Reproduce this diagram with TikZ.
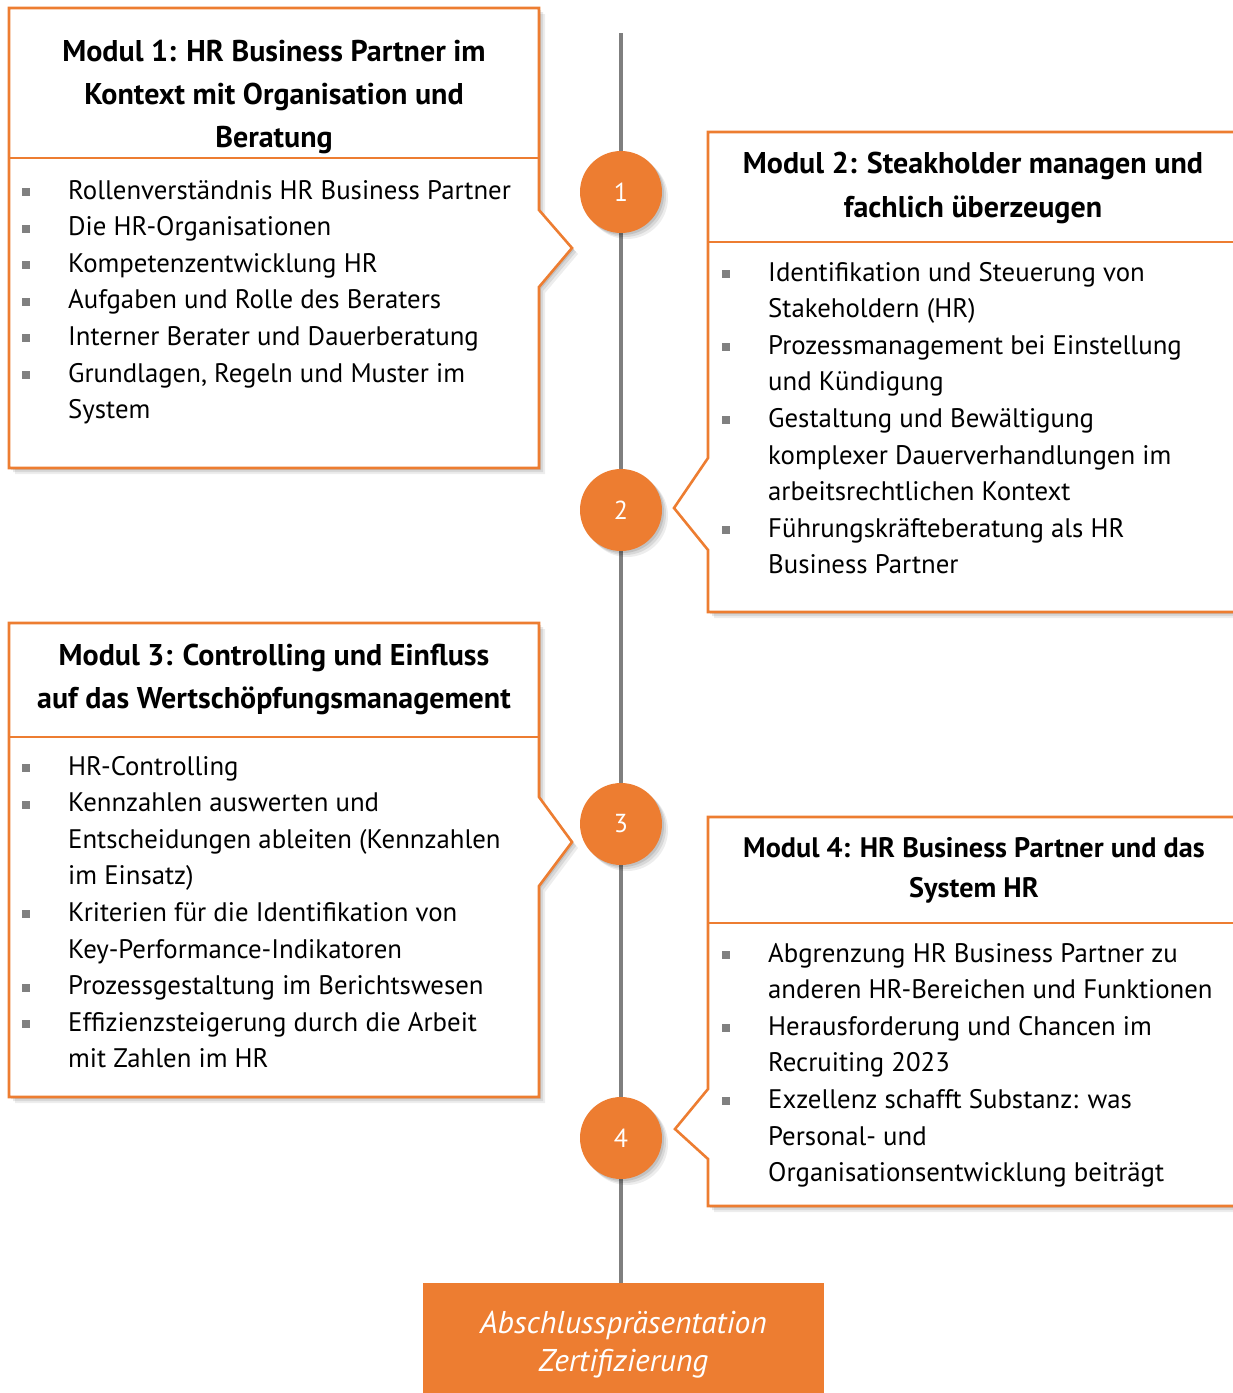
\documentclass[tikz,border=0pt]{standalone}
\usepackage{fontspec}
\setmainfont{PT Sans}
\usetikzlibrary{shadows,backgrounds}
\definecolor{org}{HTML}{ED7D31}
\definecolor{lgray}{HTML}{7F7F7F}
\definecolor{bgray}{HTML}{808080}
\newcommand{\bul}{\makebox[46pt][l]{\color{bgray}\rule[3pt]{8pt}{8pt}}}
\newcommand{\ind}{\hspace*{46pt}}
\tikzset{
  softshadow/.style={
    general shadow={fill=black,opacity=0.10,shadow xshift=2pt,shadow yshift=-2pt},
    general shadow={fill=black,opacity=0.09,shadow xshift=4pt,shadow yshift=-4pt},
    general shadow={fill=black,opacity=0.07,shadow xshift=6pt,shadow yshift=-6pt}},
  modbox/.style={draw=org, line width=2.6pt, fill=white, line join=miter, softshadow},
  divider/.style={draw=org, line width=2.6pt},
  headtxt/.style={anchor=base, align=center, inner sep=0pt, font=\bfseries\fontsize{30}{43}\selectfont},
  listtxt/.style={anchor=base west, align=left, inner sep=0pt, font=\fontsize{26.8}{36.6}\selectfont},
  stepcirc/.style={circle, fill=org, minimum size=82pt, inner sep=0pt, text=white, font=\fontsize{26}{30}\selectfont, softshadow},
  timeline/.style={draw=lgray, line width=4pt},
  finalbox/.style={fill=org, minimum width=401pt, minimum height=122pt, inner sep=0pt, anchor=north, align=center, text=white, font=\itshape\fontsize{31.5}{38}\selectfont}
}
\begin{document}
\begin{tikzpicture}[x=1pt,y=-1pt]
\useasboundingbox (0,0) rectangle (1233,1393);
\clip (0,0) rectangle (1233,1393);

% module boxes
\path[modbox] (9,8) -- (539,8) -- (539,210) -- (572,248) -- (539,287) -- (539,468) -- (9,468) -- cycle;
\draw[divider] (9,158) -- (539,158);
\path[modbox] (708,132) -- (1245,132) -- (1245,612) -- (708,612) -- (708,550) -- (674,508) -- (708,458) -- cycle;
\draw[divider] (708,242) -- (1245,242);
\path[modbox] (9,623) -- (539,623) -- (539,797) -- (572,842) -- (539,886) -- (539,1097) -- (9,1097) -- cycle;
\draw[divider] (9,737) -- (539,737);
\path[modbox] (708,817) -- (1245,817) -- (1245,1206) -- (708,1206) -- (708,1159) -- (675,1129) -- (708,1089) -- cycle;
\draw[divider] (708,923) -- (1245,923);

% headings (base anchor = baseline of last line)
\node[headtxt] (h1) at (274,147) {Modul 1: HR Business Partner im\\Kontext mit Organisation und\\Beratung};
\node[headtxt, font=\bfseries\fontsize{30}{44}\selectfont] (h2) at (973,217) {Modul 2: Steakholder managen und\\fachlich überzeugen};
\node[headtxt] (h3) at (274,708) {Modul 3: Controlling und Einfluss\\auf das Wertschöpfungsmanagement};
\node[headtxt, font=\bfseries\fontsize{28.2}{40}\selectfont] (h4) at (974,897) {Modul 4: HR Business Partner und das\\System HR};

% lists (base anchor = baseline of last line)
\node[listtxt] (l1) at (22,418.6) {\bul Rollenverständnis HR Business Partner\\
\bul Die HR-Organisationen\\
\bul Kompetenzentwicklung HR\\
\bul Aufgaben und Rolle des Beraters\\
\bul Interner Berater und Dauerberatung\\
\bul Grundlagen, Regeln und Muster im\\
\ind System};
\node[listtxt] (l2) at (722,573.8) {\bul Identifikation und Steuerung von\\
\ind Stakeholdern (HR)\\
\bul Prozessmanagement bei Einstellung\\
\ind und Kündigung\\
\bul Gestaltung und Bewältigung\\
\ind komplexer Dauerverhandlungen im\\
\ind arbeitsrechtlichen Kontext\\
\bul Führungskräfteberatung als HR\\
\ind Business Partner};
\node[listtxt] (l3) at (22,1067.8) {\bul HR-Controlling\\
\bul Kennzahlen auswerten und\\
\ind Entscheidungen ableiten (Kennzahlen\\
\ind im Einsatz)\\
\bul Kriterien für die Identifikation von\\
\ind Key-Performance-Indikatoren\\
\bul Prozessgestaltung im Berichtswesen\\
\bul Effizienzsteigerung durch die Arbeit\\
\ind mit Zahlen im HR};
\node[listtxt] (l4) at (722,1181.6) {\bul Abgrenzung HR Business Partner zu\\
\ind anderen HR-Bereichen und Funktionen\\
\bul Herausforderung und Chancen im\\
\ind Recruiting 2023\\
\bul Exzellenz schafft Substanz: was\\
\ind Personal- und\\
\ind Organisationsentwicklung beiträgt};

% step circles
\node[stepcirc] (c1) at (621,192) {1};
\node[stepcirc] (c2) at (621,510) {2};
\node[stepcirc] (c3) at (621,824) {3};
\node[stepcirc] (c4) at (621,1138) {4};

% final box
\node[finalbox] (fin) at (623.5,1283) {Abschlusspräsentation\\Zertifizierung};

% timeline
\coordinate (top) at (621,33);
\begin{scope}[on background layer]
\draw[timeline] (top) -- (top |- fin.north);
\end{scope}
\end{tikzpicture}
\end{document}
